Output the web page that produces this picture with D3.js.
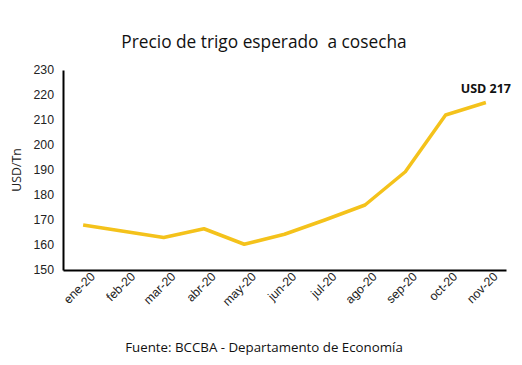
<!DOCTYPE html>
<html><head><meta charset="utf-8">
<script src="https://cdn.jsdelivr.net/npm/d3@7"></script>
<style>body{margin:0;background:#fff;}svg{display:block;font-family:"Open Sans","Liberation Sans",sans-serif;}</style>
</head><body>
<svg id="c" width="522" height="365"></svg>
<script>
const months = ["ene-20","feb-20","mar-20","abr-20","may-20","jun-20","jul-20","ago-20","sep-20","oct-20","nov-20"];
const prices = [168, 165.5, 163, 166.5, 160.3, 164.3, 170, 176, 189.3, 212, 217];
const yTicks = [150,160,170,180,190,200,210,220,230];
const title = "Precio de trigo esperado  a cosecha";
const source = "Fuente: BCCBA - Departamento de Economía";
const lastLabel = "USD 217";

const svg = d3.select("#c");
const x = d3.scaleBand().domain(months).range([63, 506]);
const y = d3.scaleLinear().domain([150, 230]).range([270, 70]);

svg.append("text").attr("x", 264).attr("y", 48).attr("text-anchor","middle")
  .style("white-space","pre")
  .attr("font-size", 17.3).attr("fill","#111").text(title);

// y axis
const ya = svg.append("g").attr("transform","translate(63,0)")
  .call(d3.axisLeft(y).tickValues(yTicks).tickSize(0).tickPadding(9));
ya.select(".domain").attr("stroke","#000").attr("stroke-width",2);
ya.selectAll("text").attr("font-size",12.3).attr("fill","#222").style("font-family","inherit");

// x axis
const xa = svg.append("g").attr("transform","translate(0,270)")
  .call(d3.axisBottom(x).tickSize(0).tickPadding(8));
xa.select(".domain").attr("stroke","#000").attr("stroke-width",2);
xa.selectAll("text").attr("font-size",12.3).attr("fill","#222").style("font-family","inherit")
  .attr("text-anchor","end").attr("dx","0.3em").attr("dy","0.5em")
  .attr("transform","rotate(-45)");

svg.append("text").attr("transform","translate(21,170) rotate(-90)")
  .attr("text-anchor","middle").attr("font-size",12.3).attr("fill","#222").text("USD/Tn");

const line = d3.line().x((d,i)=>x(months[i])+x.bandwidth()/2).y(d=>y(d));
svg.append("path").datum(prices).attr("d", line).attr("fill","none")
  .attr("stroke","#F4C21B").attr("stroke-width",3.5).attr("stroke-linejoin","round");

svg.append("text").attr("x", x(months[10])+x.bandwidth()/2).attr("y", y(prices[10]) - 10)
  .attr("text-anchor","middle").attr("font-size",12.5).attr("font-weight","bold").attr("fill","#111").text(lastLabel);

svg.append("text").attr("x", 264).attr("y", 352).attr("text-anchor","middle")
  .attr("font-size",13.3).attr("fill","#111").text(source);
</script>
</body></html>
